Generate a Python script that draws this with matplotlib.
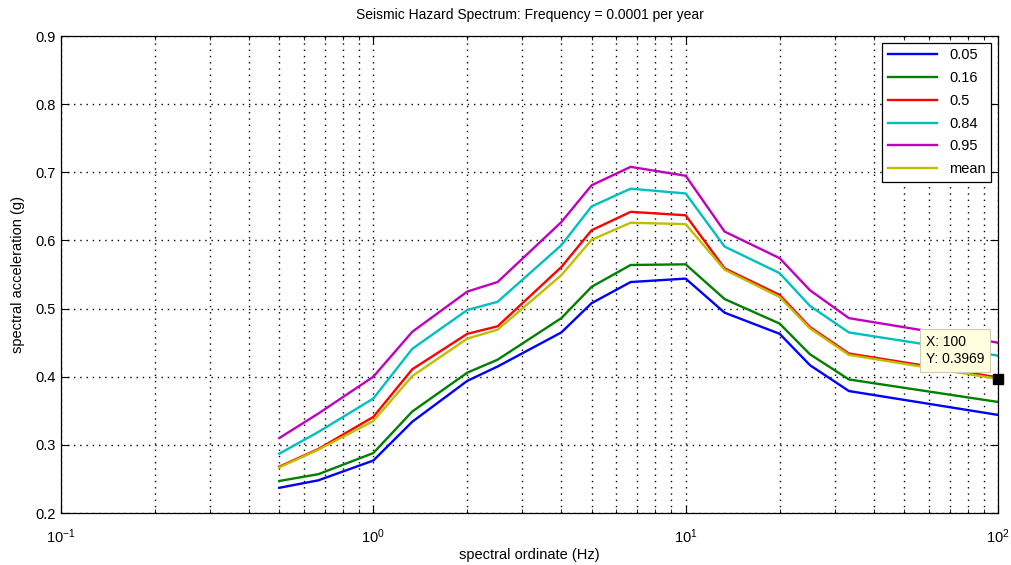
import numpy as np
import matplotlib.pyplot as plt
from matplotlib.ticker import LogLocator, NullFormatter

plt.rcParams['font.family'] = ['Liberation Sans', 'DejaVu Sans']

# spectral ordinates (Hz)
freq = [0.5, 0.667, 1.0, 1.333, 2.0, 2.5, 4.0, 5.0, 6.667, 10.0, 13.33, 20.0, 25.0, 33.33, 100.0]

# fractile hazard curves (g)
p05 = [0.237, 0.248, 0.277, 0.334, 0.394, 0.415, 0.465, 0.508, 0.539, 0.544, 0.494, 0.463, 0.417, 0.379, 0.344]
p16 = [0.247, 0.257, 0.288, 0.349, 0.406, 0.425, 0.486, 0.532, 0.564, 0.565, 0.514, 0.478, 0.433, 0.396, 0.363]
p50 = [0.268, 0.294, 0.341, 0.411, 0.463, 0.474, 0.561, 0.615, 0.642, 0.637, 0.559, 0.520, 0.473, 0.434, 0.399]
p84 = [0.287, 0.319, 0.368, 0.441, 0.498, 0.510, 0.593, 0.650, 0.676, 0.669, 0.591, 0.552, 0.504, 0.465, 0.431]
p95 = [0.310, 0.346, 0.400, 0.466, 0.525, 0.539, 0.627, 0.681, 0.708, 0.695, 0.613, 0.574, 0.527, 0.486, 0.450]
mean = [0.267, 0.293, 0.335, 0.401, 0.456, 0.469, 0.549, 0.601, 0.626, 0.624, 0.557, 0.517, 0.471, 0.432, 0.3969]

labels = ['0.05', '0.16', '0.5', '0.84', '0.95', 'mean']
colors = [(0, 0, 1), (0, 0.5, 0), (1, 0, 0), (0, 0.75, 0.75), (0.75, 0, 0.75), (0.75, 0.75, 0)]

fig = plt.figure(figsize=(10.11, 5.65), dpi=100)
ax = fig.add_axes([0.0603, 0.092, 0.9268, 0.8442])

for ys, lab, c in zip([p05, p16, p50, p84, p95, mean], labels, colors):
    ax.plot(freq, ys, color=c, lw=1.7, label=lab)

ax.set_xscale('log')
ax.set_xlim(0.1, 100)
ax.set_ylim(0.2, 0.9)
ax.set_yticks(np.arange(0.2, 0.91, 0.1))
ax.set_yticklabels(['0.2', '0.3', '0.4', '0.5', '0.6', '0.7', '0.8', '0.9'])
ax.xaxis.set_minor_locator(LogLocator(base=10, subs=np.arange(2, 10)))
ax.xaxis.set_minor_formatter(NullFormatter())

dots = (0, (1, 3.5))
ax.grid(True, which='major', ls=dots, color='black', lw=1.0)
ax.grid(True, which='minor', axis='x', ls=dots, color='black', lw=1.0)
ax.tick_params(which='both', direction='in', top=True, right=True, labelsize=10.5)
ax.tick_params(which='major', length=6)
ax.tick_params(which='minor', length=3)
ax.tick_params(axis='x', which='major', pad=10)
for s in ax.spines.values():
    s.set_linewidth(0.9)

fig.text(0.5237, 1 - 15 / 565, 'Seismic Hazard Spectrum: Frequency = 0.0001 per year',
         fontsize=10, ha='center', va='center')
ax.set_xlabel('spectral ordinate (Hz)', fontsize=10.5, labelpad=2)
ax.set_ylabel('spectral acceleration (g)', fontsize=10.5, labelpad=8)

leg = ax.legend(loc='upper right', fontsize=10.5, fancybox=False, framealpha=1,
                edgecolor='black', handlelength=3.4, borderaxespad=0.45,
                labelspacing=0.6)
leg.get_frame().set_linewidth(0.9)

# data tip
ax.plot([freq[-1]], [mean[-1]], 's', color='black', ms=7, clip_on=False, zorder=5)
ax.annotate('X: 100\nY: 0.3969', xy=(freq[-1], mean[-1]), xytext=(-52, 9),
            textcoords='offset points', fontsize=10, va='bottom', ha='left',
            linespacing=1.3,
            bbox=dict(boxstyle='square,pad=0.4', fc=(1, 1, 0.88), ec=(0.8, 0.8, 0.7), lw=0.8),
            zorder=6)

fig.savefig('out.png', dpi=100)
